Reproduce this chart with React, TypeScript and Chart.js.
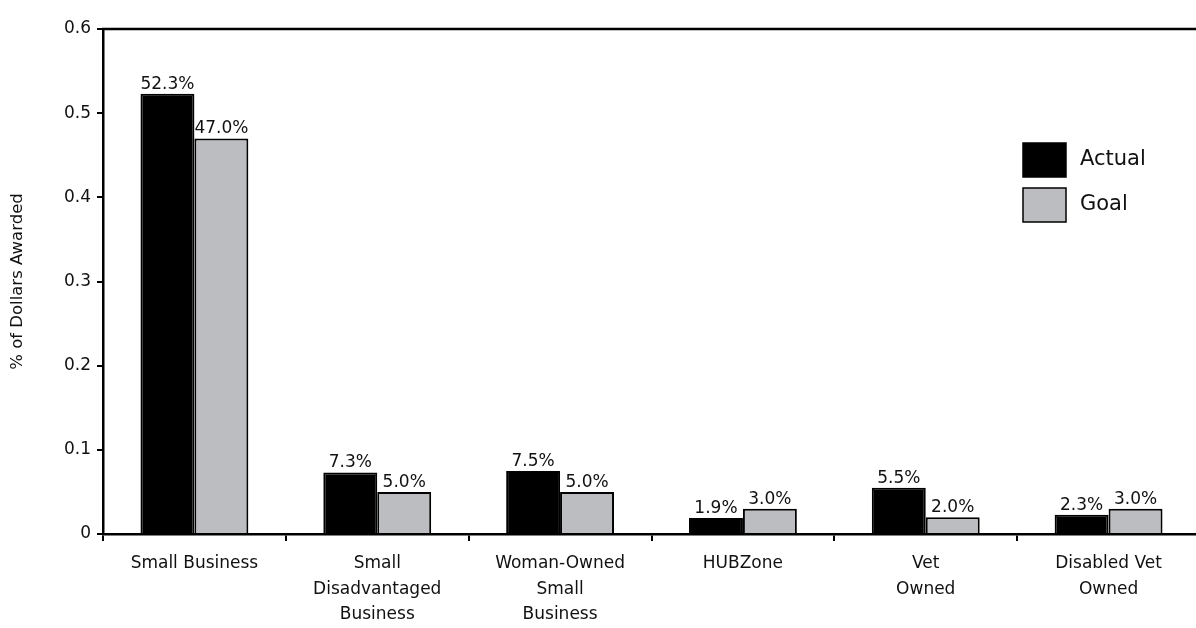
import React, { useEffect, useRef } from "react";
import { Chart, registerables } from "chart.js";

Chart.register(...registerables);

const categories: (string | string[])[] = [
  "Small Business",
  ["Small", "Disadvantaged", "Business"],
  ["Woman-Owned", "Small", "Business"],
  "HUBZone",
  ["Vet", "Owned"],
  ["Disabled Vet", "Owned"],
];
const actualValues = [0.523, 0.073, 0.075, 0.019, 0.055, 0.023];
const goalValues = [0.47, 0.05, 0.05, 0.03, 0.02, 0.03];
const actualLabels = ["52.3%", "7.3%", "7.5%", "1.9%", "5.5%", "2.3%"];
const goalLabels = ["47.0%", "5.0%", "5.0%", "3.0%", "2.0%", "3.0%"];
const seriesNames = ["Actual", "Goal"];
const yTicks = [0, 0.1, 0.2, 0.3, 0.4, 0.5, 0.6];

const FONT = "'DejaVu Sans', sans-serif";
const GRAY = "#bcbdc1";

const overlayPlugin = {
  id: "overlay",
  afterDatasetsDraw(chart: any) {
    const ctx = chart.ctx;
    const area = chart.chartArea;
    ctx.save();
    // value labels
    ctx.font = `17px ${FONT}`;
    ctx.fillStyle = "#111";
    ctx.textAlign = "center";
    ctx.textBaseline = "bottom";
    const labelSets = [actualLabels, goalLabels];
    chart.data.datasets.forEach((ds: any, di: number) => {
      const meta = chart.getDatasetMeta(di);
      meta.data.forEach((bar: any, i: number) => {
        ctx.fillText(labelSets[di][i], bar.x, bar.y - 1);
      });
    });
    // top border line
    ctx.strokeStyle = "#000";
    ctx.lineWidth = 2.5;
    ctx.beginPath();
    ctx.moveTo(area.left - 1, area.top);
    ctx.lineTo(chart.width, area.top);
    ctx.stroke();
    // legend
    const colors = ["#000", GRAY];
    const lx = 1023;
    const ly = [143, 188];
    ctx.font = `21px ${FONT}`;
    ctx.textAlign = "left";
    ctx.textBaseline = "middle";
    seriesNames.forEach((name, i) => {
      ctx.fillStyle = colors[i];
      ctx.fillRect(lx, ly[i], 43, 34);
      ctx.lineWidth = 1.5;
      ctx.strokeStyle = "#000";
      ctx.strokeRect(lx, ly[i], 43, 34);
      ctx.fillStyle = "#111";
      ctx.fillText(name, lx + 57, ly[i] + 17);
    });
    ctx.restore();
  },
};

export default function App() {
  const ref = useRef<HTMLCanvasElement | null>(null);
  useEffect(() => {
    document.body.style.margin = "0";
    if (!ref.current) return;
    const chart = new Chart(ref.current, {
      type: "bar",
      data: {
        labels: categories,
        datasets: [
          {
            label: seriesNames[0],
            data: actualValues,
            backgroundColor: "#000",
            borderColor: "#000",
            borderWidth: 2,
            categoryPercentage: 0.59,
            barPercentage: 1.0,
          },
          {
            label: seriesNames[1],
            data: goalValues,
            backgroundColor: GRAY,
            borderColor: "#000",
            borderWidth: 2,
            categoryPercentage: 0.59,
            barPercentage: 1.0,
          },
        ],
      },
      options: {
        responsive: false,
        animation: false,
        layout: { padding: { top: 29, right: 0, left: 0, bottom: 0 } },
        plugins: {
          legend: { display: false },
          tooltip: { enabled: false },
        },
        scales: {
          x: {
            offset: true,
            grid: {
              offset: true,
              drawOnChartArea: false,
              drawTicks: true,
              tickLength: 7,
              color: "#000",
              lineWidth: 2,
            },
            border: { display: true, color: "#000", width: 2.5 },
            ticks: {
              color: "#111",
              font: { family: FONT, size: 17, lineHeight: 1.5 },
              padding: 10,
              maxRotation: 0,
              autoSkip: false,
            },
            afterFit(scale: any) {
              scale.height = 94;
            },
          },
          y: {
            min: 0,
            max: 0.6,
            afterBuildTicks(scale: any) {
              scale.ticks = yTicks.map((v) => ({ value: v }));
            },
            grid: {
              drawOnChartArea: false,
              drawTicks: true,
              tickLength: 6,
              color: "#000",
              lineWidth: 2,
            },
            border: { display: true, color: "#000", width: 2.5 },
            ticks: {
              color: "#111",
              font: { family: FONT, size: 17 },
              padding: 6,
              callback: (v: any) => String(Number(v)),
            },
            title: {
              display: true,
              text: "% of Dollars Awarded",
              color: "#111",
              font: { family: FONT, size: 16.5 },
              padding: { top: 8, bottom: 28 },
            },
            afterFit(scale: any) {
              scale.width = 103;
            },
          },
        },
      },
      plugins: [overlayPlugin],
    });
    return () => chart.destroy();
  }, []);
  return (
    <div style={{ width: 1196, height: 628, background: "#fff", overflow: "hidden" }}>
      <canvas ref={ref} width={1200} height={628} style={{ display: "block" }} />
    </div>
  );
}
